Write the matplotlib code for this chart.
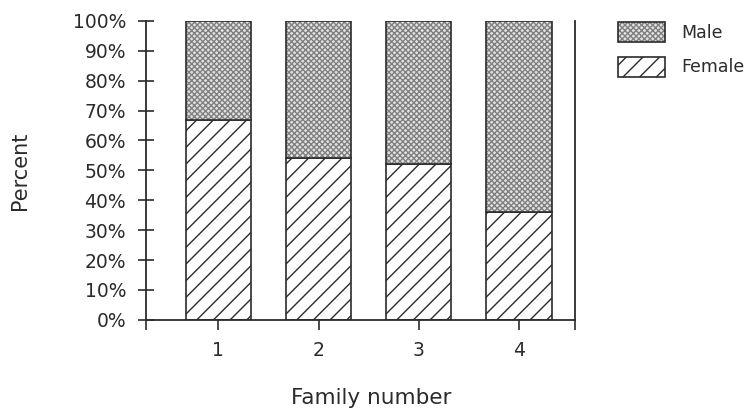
import matplotlib
matplotlib.use("Agg")
import matplotlib.pyplot as plt
import numpy as np
from matplotlib.patches import Patch

plt.rcParams["font.family"] = ["DejaVu Sans"]
plt.rcParams["hatch.linewidth"] = 1.0

families = ["1", "2", "3", "4"]
female = [67, 54, 52, 36]
male = [100 - f for f in female]
y_ticks = [0, 10, 20, 30, 40, 50, 60, 70, 80, 90, 100]

INK = "#2b2b2b"
DOTS = "#808080"
x = np.arange(1, len(families) + 1)
width = 0.65

fig = plt.figure(figsize=(7.46, 4.16), dpi=100)
ax = fig.add_axes([0.196, 0.231, 0.575, 0.719])

# female: diagonal hatch
ax.bar(x, female, width=width, color="white", edgecolor=INK,
       linewidth=1.2, hatch="//")
# male: fine dotted texture, then a dark outline on top
ax.bar(x, male, width=width, bottom=female, color="#e2e2e2", edgecolor=DOTS,
       linewidth=0, hatch="xxxxxx")
ax.bar(x, male, width=width, bottom=female, fill=False, edgecolor=INK,
       linewidth=1.2)

x_left, x_right = 0.28, 4.56
ax.set_xlim(x_left, x_right)
ax.set_ylim(0, 100)

ax.set_yticks(y_ticks)
ax.set_yticklabels([f"{v}%" for v in y_ticks])
ax.set_xticks(x)
ax.set_xticklabels(families)
ax.set_xticks([x_left, x_right], minor=True)

ax.tick_params(axis="y", direction="inout", length=11, width=1.2,
               color=INK, labelsize=13.5, labelcolor=INK, pad=9)
ax.tick_params(axis="x", which="both", direction="out", length=7, width=1.2,
               color=INK, labelsize=13.5, labelcolor=INK, pad=8)

ax.spines["top"].set_visible(False)
for side in ("left", "right", "bottom"):
    ax.spines[side].set_color(INK)
    ax.spines[side].set_linewidth(1.3)

ax.set_ylabel("Percent", fontsize=15, color=INK)
ax.yaxis.set_label_coords(-0.272, 0.50)
ax.set_xlabel("Family number", fontsize=15.5, color=INK)
ax.xaxis.set_label_coords(0.524, -0.228)

male_handle = (Patch(facecolor="#e2e2e2", edgecolor=DOTS, hatch="xxxxxx", linewidth=0),
               Patch(fill=False, edgecolor=INK, linewidth=1.2))
female_handle = Patch(facecolor="white", edgecolor=INK, hatch="//", linewidth=1.2)
fig.legend([male_handle, female_handle], ["Male", "Female"],
           loc="upper left", bbox_to_anchor=(0.808, 0.985),
           frameon=False, fontsize=12.5, handlelength=2.7, handleheight=1.4,
           handletextpad=0.9, labelspacing=0.85, labelcolor=INK)

fig.savefig("out.png", dpi=100)
